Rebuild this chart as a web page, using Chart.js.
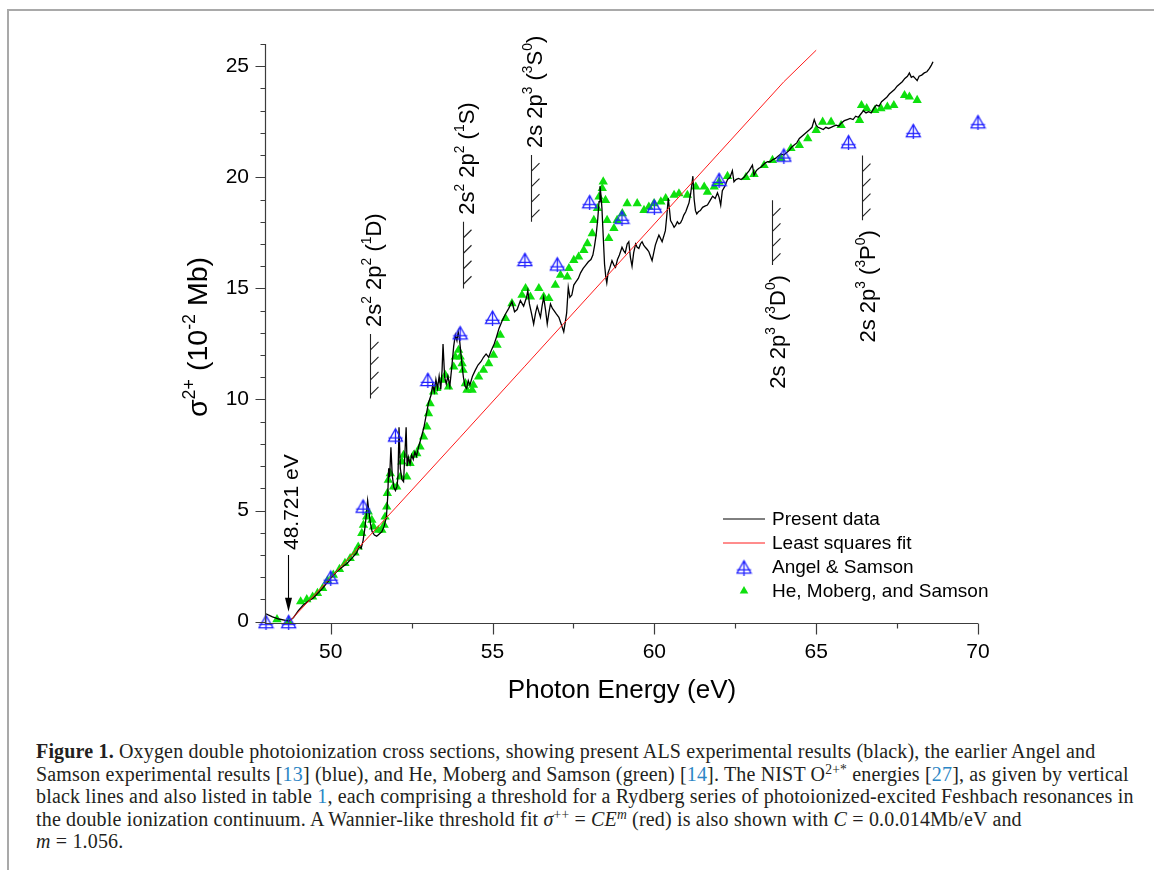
<!DOCTYPE html>
<html>
<head>
<meta charset="utf-8">
<script src="https://cdn.jsdelivr.net/npm/chart.js@4.4.0/dist/chart.umd.min.js"></script>
<style>
html, body { margin: 0; padding: 0; background: #fff; }
body { width: 1154px; height: 870px; position: relative; overflow: hidden; }
#frame { position: absolute; left: 7px; top: 9px; width: 1160px; height: 880px; border-top: 2px solid #a9a9a9; border-left: 2px solid #a9a9a9; }
#chart { position: absolute; left: 0; top: 0; }
#caption { position: absolute; left: 36px; top: 740px; font-family: "Liberation Serif", "DejaVu Serif", serif; font-size: 20px; letter-spacing: 0.17px; line-height: 22.5px; color: #231f20; white-space: nowrap; }
#caption sup { font-size: 0.68em; position: relative; top: -0.5em; vertical-align: baseline; line-height: 0; }
.ref { color: #2b86c5; }
</style>
</head>
<body>
<div id="frame"></div>
<canvas id="chart" width="1154" height="720"></canvas>
<div id="caption">
<div><b>Figure 1.</b> Oxygen double photoionization cross sections, showing present ALS experimental results (black), the earlier Angel and</div>
<div>Samson experimental results [<span class="ref">13</span>] (blue), and He, Moberg and Samson (green) [<span class="ref">14</span>]. The NIST O<sup>2+*</sup> energies [<span class="ref">27</span>], as given by vertical</div>
<div>black lines and also listed in table <span class="ref">1</span>, each comprising a threshold for a Rydberg series of photoionized-excited Feshbach resonances in</div>
<div>the double ionization continuum. A Wannier-like threshold fit <i>σ</i><sup>++</sup> = <i>CE<sup>m</sup></i> (red) is also shown with <i>C</i> = 0.0.014Mb/eV and</div>
<div><i>m</i> = 1.056.</div>
</div>
<script>
// present ALS data (black trace)
const presentEnergy = [
  48.00, 48.20, 48.40, 48.60, 48.72, 48.85, 49.00, 49.15, 49.30, 49.45, 49.60, 49.75, 49.90, 50.05, 50.20, 50.35,
  50.50, 50.65, 50.80, 50.88, 50.94, 51.00, 51.05, 51.10, 51.14, 51.18, 51.23, 51.28, 51.35, 51.42, 51.50, 51.58,
  51.65, 51.72, 51.76, 51.79, 51.82, 51.86, 51.90, 51.95, 52.00, 52.05, 52.08, 52.11, 52.15, 52.20, 52.25, 52.28,
  52.33, 52.36, 52.40, 52.45, 52.50, 52.55, 52.60, 52.65, 52.72, 52.80, 52.88, 52.95, 53.02, 53.10, 53.15, 53.20,
  53.25, 53.30, 53.35, 53.40, 53.44, 53.47, 53.52, 53.57, 53.62, 53.68, 53.74, 53.80, 53.85, 53.90, 53.94, 53.98,
  54.02, 54.06, 54.10, 54.15, 54.20, 54.25, 54.30, 54.38, 54.46, 54.55, 54.64, 54.72, 54.80, 54.88, 54.96, 55.05,
  55.12, 55.20, 55.30, 55.40, 55.50, 55.60, 55.68, 55.76, 55.86, 55.96, 56.05, 56.09, 56.14, 56.20, 56.27, 56.33,
  56.38, 56.44, 56.48, 56.53, 56.58, 56.64, 56.69, 56.74, 56.79, 56.85, 56.90, 56.97, 57.05, 57.12, 57.20, 57.25,
  57.29, 57.34, 57.39, 57.45, 57.51, 57.58, 57.65, 57.72, 57.80, 57.88, 57.96, 58.04, 58.10, 58.15, 58.20, 58.25,
  58.29, 58.32, 58.35, 58.38, 58.42, 58.46, 58.50, 58.53, 58.57, 58.62, 58.69, 58.75, 58.80, 58.86, 58.92, 59.00,
  59.05, 59.10, 59.16, 59.21, 59.26, 59.31, 59.36, 59.42, 59.47, 59.52, 59.57, 59.62, 59.67, 59.72, 59.78, 59.83,
  59.88, 59.93, 59.98, 60.03, 60.09, 60.14, 60.19, 60.24, 60.30, 60.34, 60.38, 60.43, 60.47, 60.50, 60.56, 60.61,
  60.66, 60.71, 60.76, 60.81, 60.86, 60.91, 60.97, 61.02, 61.07, 61.12, 61.16, 61.19, 61.23, 61.27, 61.31, 61.36,
  61.42, 61.49, 61.56, 61.64, 61.72, 61.80, 61.88, 61.95, 62.00, 62.05, 62.10, 62.18, 62.26, 62.34, 62.41, 62.46,
  62.52, 62.60, 62.68, 62.77, 62.85, 62.93, 63.03, 63.08, 63.15, 63.22, 63.29, 63.36, 63.43, 63.50, 63.58, 63.66,
  63.74, 63.82, 63.91, 64.00, 64.08, 64.16, 64.24, 64.32, 64.40, 64.48, 64.56, 64.64, 64.72, 64.80, 64.87, 64.94,
  65.00, 65.06, 65.14, 65.22, 65.30, 65.38, 65.46, 65.54, 65.62, 65.70, 65.78, 65.87, 65.96, 66.05, 66.14, 66.22,
  66.30, 66.38, 66.46, 66.54, 66.62, 66.70, 66.78, 66.86, 66.94, 67.02, 67.10, 67.18, 67.26, 67.34, 67.42, 67.50,
  67.58, 67.66, 67.74, 67.82, 67.88, 67.94, 68.00, 68.06, 68.12, 68.18, 68.26, 68.34, 68.42, 68.50, 68.56, 68.61
];
const presentSigma = [
  0.35, 0.22, 0.12, 0.06, 0.03, 0.18, 0.50, 0.75, 0.92, 1.05, 1.28, 1.50, 1.78, 2.05, 2.28, 2.45,
  2.62, 2.85, 3.10, 3.40, 3.30, 3.65, 4.15, 4.80, 5.45, 4.95, 4.40, 4.05, 3.90, 3.85, 3.95, 4.05,
  4.30, 4.70, 5.60, 6.90, 6.50, 7.85, 6.60, 6.05, 5.90, 6.10, 6.60, 8.75, 6.90, 6.40, 6.30, 7.20,
  8.75, 7.00, 7.40, 7.10, 7.50, 7.30, 7.65, 7.45, 7.90, 8.30, 8.75, 9.30, 9.85, 10.20, 10.65, 10.35,
  10.90, 10.50, 11.05, 10.45, 11.30, 12.50, 11.00, 10.70, 11.05, 10.60, 11.45, 12.40, 12.90, 12.65, 13.05, 12.70,
  12.10, 11.50, 11.00, 10.60, 10.50, 10.85, 10.65, 11.05, 11.30, 11.55, 11.70, 11.90, 12.05, 11.90, 12.20, 12.50,
  12.80, 13.20, 13.55, 13.85, 14.10, 14.40, 13.95, 14.05, 14.45, 14.20, 14.60, 14.90, 14.30, 13.90, 13.40, 13.90,
  14.20, 13.90, 13.70, 14.20, 14.60, 14.00, 13.40, 13.90, 14.30, 14.10, 14.00, 13.85, 13.70, 13.40, 13.05, 13.50,
  13.90, 15.05, 14.60, 14.70, 15.15, 15.30, 15.45, 15.70, 15.90, 16.05, 16.20, 16.30, 16.50, 16.90, 17.40, 18.10,
  18.90, 19.60, 19.20, 18.60, 17.35, 16.10, 15.50, 15.25, 15.70, 15.90, 16.25, 16.05, 15.95, 16.30, 16.50, 16.85,
  16.70, 16.60, 17.00, 17.10, 16.40, 16.00, 16.60, 17.00, 16.85, 16.80, 17.00, 17.10, 16.95, 16.85, 16.75, 16.65,
  16.45, 16.25, 16.60, 16.95, 17.20, 17.40, 17.25, 17.10, 17.40, 17.60, 18.20, 19.05, 18.50, 18.05, 17.90, 17.75,
  17.85, 18.00, 17.90, 17.95, 18.10, 18.30, 18.45, 18.65, 18.85, 19.25, 19.70, 20.05, 19.00, 18.50, 18.35, 18.45,
  18.50, 18.65, 18.70, 18.75, 18.95, 19.15, 19.05, 19.30, 19.10, 18.75, 19.40, 19.60, 19.90, 20.00, 20.30, 19.80,
  19.90, 19.95, 19.90, 20.00, 20.15, 20.30, 20.55, 20.10, 20.30, 20.40, 20.45, 20.55, 20.65, 20.70, 20.70, 20.80,
  20.85, 20.95, 21.05, 21.00, 21.10, 21.20, 21.35, 21.45, 21.55, 21.75, 21.85, 21.95, 22.05, 22.15, 22.25, 22.60,
  22.35, 22.25, 22.20, 22.15, 22.25, 22.20, 22.25, 22.30, 22.35, 22.30, 22.45, 22.55, 22.60, 22.65, 22.60, 22.75,
  22.70, 22.85, 23.00, 22.90, 22.95, 22.90, 23.10, 23.25, 23.20, 23.40, 23.50, 23.60, 23.75, 23.85, 23.95, 24.10,
  24.20, 24.30, 24.45, 24.55, 24.70, 24.50, 24.55, 24.45, 24.35, 24.55, 24.60, 24.70, 24.75, 24.90, 25.05, 25.20
];

// least squares fit (red)
const fitEnergy = [48.72, 50, 52, 54, 56, 58, 60, 62, 64, 65];
const fitSigma = [0, 1.98, 5.12, 8.30, 11.50, 14.70, 17.90, 21.10, 24.30, 25.72];

// Angel & Samson (blue)
const angelEnergy = [48.0, 48.7, 50, 51, 52, 53, 54, 55, 56, 57, 58, 59, 60, 62, 64, 66, 68, 70];
const angelSigma = [0.0, 0.0, 2.0, 5.2, 8.4, 10.9, 13.0, 13.7, 16.3, 16.1, 18.9, 18.2, 18.7, 19.9, 21.0, 21.6, 22.1, 22.5];

// He, Moberg, and Samson (green)
const heEnergy = [
  48.34, 48.70, 49.07, 49.26, 49.44, 49.59, 49.75, 49.90, 50.08, 50.27, 50.44, 50.60, 50.75, 50.85, 50.96, 51.01,
  51.11, 51.16, 51.27, 51.32, 51.47, 51.58, 51.65, 51.68, 51.73, 51.75, 51.78, 51.84, 51.94, 52.04, 52.15, 52.20,
  52.25, 52.35, 52.45, 52.56, 52.66, 52.76, 52.87, 52.97, 53.02, 53.07, 53.18, 53.28, 53.44, 53.54, 53.64, 53.80,
  53.85, 53.95, 54.00, 54.06, 54.09, 54.16, 54.21, 54.37, 54.41, 54.57, 54.72, 54.88, 55.03, 55.14, 55.24, 55.40,
  55.60, 55.91, 56.02, 56.17, 56.43, 56.58, 56.74, 56.94, 57.10, 57.31, 57.36, 57.51, 57.66, 57.82, 57.93, 58.08,
  58.13, 58.24, 58.29, 58.39, 58.42, 58.49, 58.54, 58.59, 58.75, 58.85, 59.01, 59.16, 59.47, 59.68, 59.83, 59.99,
  60.20, 60.35, 60.61, 60.76, 61.02, 61.28, 61.54, 61.64, 61.85, 62.00, 62.26, 62.83, 63.08, 63.39, 63.65, 63.91,
  64.22, 64.48, 64.74, 65.00, 65.20, 65.46, 65.77, 66.34, 66.40, 66.56, 66.81, 67.00, 67.20, 67.40, 67.73, 67.88,
  68.12
];
const heSigma = [
  0.10, 0.00, 0.90, 1.00, 1.12, 1.28, 1.50, 1.85, 2.10, 2.36, 2.63, 2.85, 3.10, 3.37, 3.98, 4.35,
  4.72, 4.95, 4.57, 4.27, 4.12, 4.12, 4.35, 4.72, 5.17, 5.78, 6.37, 6.67, 6.07, 6.07, 6.52, 7.20,
  7.50, 6.52, 7.13, 7.50, 7.57, 7.87, 8.32, 8.77, 9.37, 9.82, 10.35, 10.50, 10.87, 11.10, 10.57, 11.47,
  11.92, 12.22, 11.92, 11.62, 11.32, 10.72, 10.42, 10.42, 10.65, 11.02, 11.32, 11.62, 12.00, 12.45, 12.90, 13.65,
  14.32, 14.70, 15.00, 14.62, 15.00, 14.62, 14.55, 15.15, 15.60, 15.52, 15.90, 16.27, 16.42, 16.72, 17.02, 17.47,
  18.07, 18.60, 19.12, 19.50, 19.80, 18.97, 18.07, 17.25, 17.70, 18.07, 18.37, 18.82, 18.82, 18.52, 18.67, 18.82,
  18.90, 19.05, 19.20, 19.27, 19.20, 19.57, 19.57, 19.34, 19.57, 19.79, 20.05, 20.00, 20.14, 20.54, 20.77, 20.85,
  21.30, 21.44, 21.74, 22.12, 22.49, 22.49, 22.34, 22.57, 23.24, 23.10, 23.02, 23.10, 23.17, 23.24, 23.69, 23.62,
  23.47
];

// NIST O2+* thresholds (vertical hatched markers)
const thresholdEnergy = [51.22, 54.08, 56.20, 63.62, 66.42];
const thresholdLow = [10.05, 15.0, 18.0, 16.05, 18.07];
const thresholdHigh = [12.95, 18.0, 21.0, 18.97, 20.98];
const thresholdSide = ['above', 'above', 'above', 'below', 'below'];
const thresholdLabels = [
  [['2s'], ['2', 1], [' 2p'], ['2', 1], [' ('], ['1', 1], ['D)']],
  [['2s'], ['2', 1], [' 2p'], ['2', 1], [' ('], ['1', 1], ['S)']],
  [['2s 2p'], ['3', 1], [' ('], ['3', 1], ['S'], ['0', 1], [')']],
  [['2s 2p'], ['3', 1], [' ('], ['3', 1], ['D'], ['0', 1], [')']],
  [['2s 2p'], ['3', 1], [' ('], ['3', 1], ['P'], ['0', 1], [')']]
];

// double ionization threshold arrow
const thresholdArrowEnergy = 48.69;
const thresholdArrowTop = 3.0;
const thresholdArrowTip = 0.45;
const thresholdArrowLabel = '48.721 eV';

const xMajorTicks = [50, 55, 60, 65, 70];
const xMinorTicks = [52.5, 57.5, 62.5, 67.5];
const yMajorTicks = [0, 5, 10, 15, 20, 25];
const yTitle = [['σ'], ['2+', 1], [' (10'], ['-2', 1], [' Mb)']];

const FONT = '"Liberation Sans", Arial, sans-serif';
const GREEN = '#0ee00e';
const BLUE = '#1f1fff';
const RED = '#ff1a1a';

const toPoints = (xs, ys) => xs.map((x, i) => ({ x: x, y: ys[i] }));

function makeAngelMarker() {
    const c = document.createElement('canvas');
    c.width = 17;
    c.height = 17;
    const g = c.getContext('2d');
    g.strokeStyle = BLUE;
    g.lineWidth = 1.3;
    g.beginPath();
    g.moveTo(8.5, 2.3);
    g.lineTo(15.5, 14.6);
    g.lineTo(1.5, 14.6);
    g.closePath();
    g.stroke();
    g.beginPath();
    g.moveTo(8.5, 2.3);
    g.lineTo(8.5, 17);
    g.moveTo(1.5, 11.3);
    g.lineTo(15.5, 11.3);
    g.stroke();
    return c;
}
const angelMarker = makeAngelMarker();

function richWidth(ctx, segs, size) {
    let w = 0;
    segs.forEach(([t, sup]) => {
        ctx.font = `${sup ? size * 0.63 : size}px ${FONT}`;
        w += ctx.measureText(t).width;
    });
    return w;
}

function drawRich(ctx, segs, size, x, y) {
    segs.forEach(([t, sup]) => {
        ctx.font = `${sup ? size * 0.63 : size}px ${FONT}`;
        ctx.fillText(t, x, sup ? y - size * 0.42 : y);
        x += ctx.measureText(t).width;
    });
}

// rotated text reading bottom to top, baseline at bx, starting at screen y = by
function drawRotated(ctx, segs, size, bx, by) {
    ctx.save();
    ctx.translate(bx, by);
    ctx.rotate(-Math.PI / 2);
    ctx.textAlign = 'left';
    ctx.textBaseline = 'alphabetic';
    drawRich(ctx, segs, size, 0, 0);
    ctx.restore();
}

const decorations = {
    id: 'decorations',
    afterDraw(chart) {
        const { ctx, chartArea, scales: { x, y } } = chart;
        ctx.save();
        ctx.fillStyle = '#000';

        // axis lines and tick marks
        ctx.strokeStyle = '#3c3c3c';
        ctx.lineWidth = 1.2;
        const left = Math.round(chartArea.left) - 0.5;
        const bottom = Math.round(chartArea.bottom) + 0.5;
        ctx.beginPath();
        ctx.moveTo(left, chartArea.top);
        ctx.lineTo(left, bottom);
        ctx.lineTo(chartArea.right, bottom);
        for (let v = Math.ceil(y.min); v <= y.max; v++) {
            const py = Math.round(y.getPixelForValue(v)) + 0.5;
            ctx.moveTo(left, py);
            ctx.lineTo(left - (yMajorTicks.includes(v) ? 10 : 5), py);
        }
        xMajorTicks.forEach(v => {
            const px = Math.round(x.getPixelForValue(v)) + 0.5;
            ctx.moveTo(px, bottom);
            ctx.lineTo(px, bottom + 11);
        });
        xMinorTicks.forEach(v => {
            const px = Math.round(x.getPixelForValue(v)) + 0.5;
            ctx.moveTo(px, bottom);
            ctx.lineTo(px, bottom + 5);
        });
        ctx.stroke();

        // y axis title
        drawRotated(ctx, yTitle, 28.5, 207, 417);

        // hatched threshold markers
        ctx.strokeStyle = '#222';
        ctx.lineWidth = 1.1;
        thresholdEnergy.forEach((e, i) => {
            const px = Math.round(x.getPixelForValue(e)) + 0.5;
            const top = y.getPixelForValue(thresholdHigh[i]);
            const bot = y.getPixelForValue(thresholdLow[i]);
            ctx.beginPath();
            ctx.moveTo(px, top);
            ctx.lineTo(px, bot);
            const step = (bot - top) / 4.3;
            for (let k = 0; k < 4; k++) {
                const y0 = top + 16 + k * step;
                ctx.moveTo(px, y0);
                ctx.lineTo(px + 8, y0 - 8);
            }
            ctx.stroke();
            const size = 22;
            if (thresholdSide[i] === 'above') {
                drawRotated(ctx, thresholdLabels[i], size, px + 10, top - 7);
            } else {
                const w = richWidth(ctx, thresholdLabels[i], size);
                drawRotated(ctx, thresholdLabels[i], size, px + 12, bot + 10 + w);
            }
        });

        // threshold arrow
        const ax = Math.round(x.getPixelForValue(thresholdArrowEnergy)) + 0.5;
        const aTop = y.getPixelForValue(thresholdArrowTop);
        const aTip = y.getPixelForValue(thresholdArrowTip);
        ctx.strokeStyle = '#000';
        ctx.beginPath();
        ctx.moveTo(ax, aTop);
        ctx.lineTo(ax, aTip - 10);
        ctx.stroke();
        ctx.beginPath();
        ctx.moveTo(ax, aTip);
        ctx.lineTo(ax - 3.5, aTip - 14);
        ctx.lineTo(ax + 3.5, aTip - 14);
        ctx.closePath();
        ctx.fill();
        drawRotated(ctx, [[thresholdArrowLabel]], 21, ax + 9, aTop - 5);

        // legend
        const legendColors = ['#000', RED];
        const lx = chartArea.left + 457;
        const ly = chartArea.top + 475;
        ctx.font = `19px ${FONT}`;
        ctx.textAlign = 'left';
        ctx.textBaseline = 'middle';
        chart.data.datasets.forEach((ds, i) => {
            const cy = ly + i * 24;
            if (i < 2) {
                ctx.strokeStyle = legendColors[i];
                ctx.lineWidth = 1;
                ctx.beginPath();
                ctx.moveTo(lx, Math.round(cy));
                ctx.lineTo(lx + 42, Math.round(cy));
                ctx.stroke();
            } else if (i === 3) {
                ctx.fillStyle = GREEN;
                ctx.beginPath();
                ctx.moveTo(lx + 21, cy - 5);
                ctx.lineTo(lx + 25.3, cy + 2.5);
                ctx.lineTo(lx + 16.7, cy + 2.5);
                ctx.closePath();
                ctx.fill();
            } else {
                ctx.drawImage(angelMarker, lx + 21 - 8.5, cy - 8.5);
            }
            ctx.fillStyle = '#000';
            ctx.fillText(ds.label, lx + 49, cy + 1);
        });
        ctx.restore();
    }
};

new Chart(document.getElementById('chart'), {
    type: 'scatter',
    data: {
        datasets: [
            { label: 'Present data', data: toPoints(presentEnergy, presentSigma), showLine: true, borderColor: '#000', borderWidth: 1.3, pointRadius: 0, order: 2 },
            { label: 'Least squares fit', data: toPoints(fitEnergy, fitSigma), showLine: true, borderColor: RED, borderWidth: 1, pointRadius: 0, order: 1 },
            { label: 'Angel & Samson', data: toPoints(angelEnergy, angelSigma), pointStyle: angelMarker, pointRadius: 8, order: 0, clip: false },
            { label: 'He, Moberg, and Samson', data: toPoints(heEnergy, heSigma), pointStyle: 'triangle', pointRadius: 5.4, backgroundColor: GREEN, borderColor: GREEN, borderWidth: 0, order: 3 }
        ]
    },
    options: {
        responsive: false,
        animation: false,
        layout: { padding: { left: 0, top: 44, right: 176, bottom: 7 } },
        plugins: { legend: { display: false }, tooltip: { enabled: false } },
        scales: {
            x: {
                type: 'linear', min: 48, max: 70,
                grid: { display: false, drawTicks: false },
                border: { display: false },
                ticks: { stepSize: 5, includeBounds: false, padding: 17, color: '#000', maxRotation: 0, font: { family: FONT, size: 21 } },
                title: { display: true, text: 'Photon Energy (eV)', color: '#000', font: { family: FONT, size: 26 }, padding: { top: 0, bottom: 7 } },
                afterFit: s => { s.height = 90; }
            },
            y: {
                type: 'linear', min: -0.06, max: 26,
                grid: { display: false, drawTicks: false },
                border: { display: false },
                ticks: { stepSize: 5, includeBounds: false, padding: 17, color: '#000', font: { family: FONT, size: 21 } },
                afterFit: s => { s.width = 266; }
            }
        }
    },
    plugins: [decorations]
});
</script>
</body>
</html>
